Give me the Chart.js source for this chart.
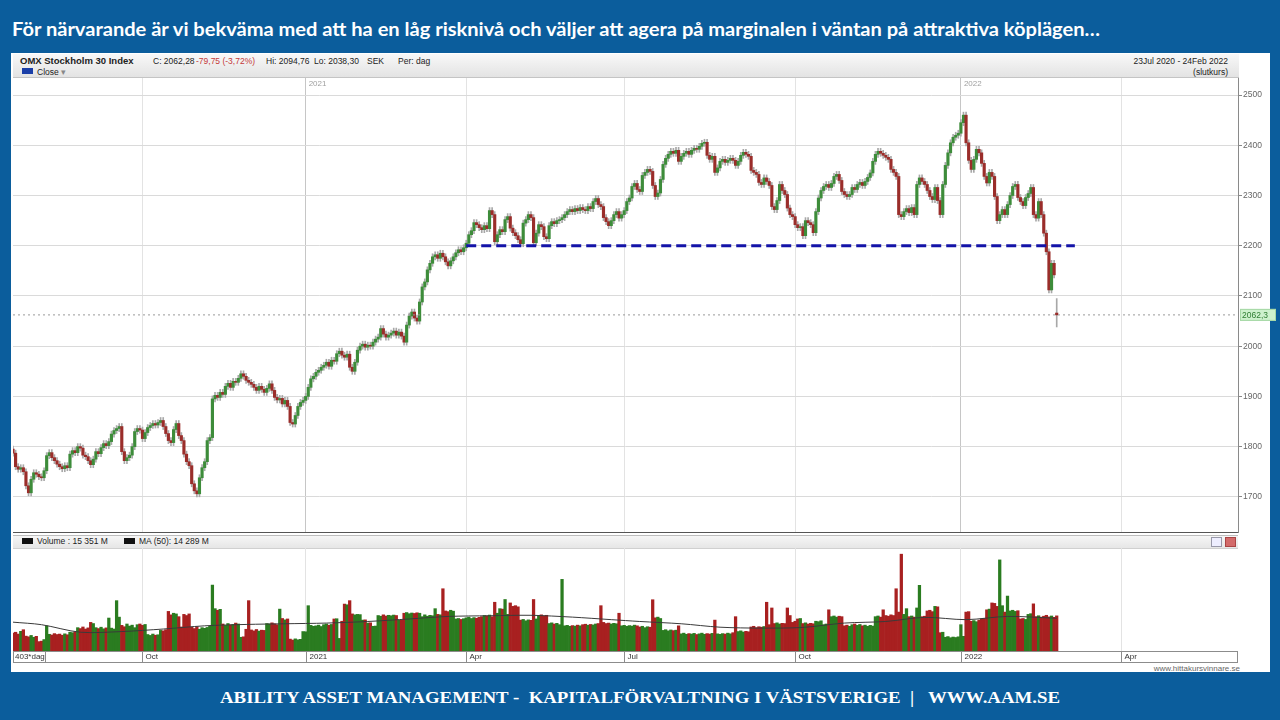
<!DOCTYPE html>
<html><head><meta charset="utf-8">
<script src="https://cdn.jsdelivr.net/npm/chart.js@4.4.0/dist/chart.umd.min.js"></script>
<style>
html,body{margin:0;padding:0;}
body{width:1280px;height:720px;background:#0b5d9c;position:relative;overflow:hidden;font-family:"Liberation Sans",Arial,sans-serif;}
.abs{position:absolute;white-space:nowrap;}
#title{left:12px;top:17px;line-height:24px;color:#fff;font-weight:bold;font-size:19px;font-family:Lato,"Open Sans",sans-serif;transform-origin:0 0;}
#panel{left:11px;top:53px;width:1259px;height:619px;background:#fff;}
#hdr{left:13px;top:54px;width:1226px;height:23px;background:linear-gradient(#f8f8f8,#e3e3e3);border-bottom:1px solid #c4c4c4;}
.t{font-size:8.5px;line-height:12px;color:#222;}
#vleg{left:13px;top:535px;width:1225px;height:12px;background:linear-gradient(#f6f6f6,#e6e6e6);border-top:1px solid #bdbdbd;border-bottom:1px solid #d0d0d0;}
#footer{left:220px;top:686px;line-height:24px;color:#fff;font-weight:bold;font-size:17px;font-family:"Liberation Serif","Times New Roman",serif;transform-origin:0 0;}
canvas{position:absolute;}
</style></head>
<body>
<div id="title" class="abs">För närvarande är vi bekväma med att ha en låg risknivå och väljer att agera på marginalen i väntan på attraktiva köplägen…</div>
<div id="panel" class="abs"></div>
<div id="hdr" class="abs"></div>
<div class="abs t" style="left:20px;top:55px;font-weight:bold;font-size:9.5px;">OMX Stockholm 30 Index</div>
<div class="abs t" style="left:153px;top:55px;">C: 2062,28</div>
<div class="abs t" style="left:196px;top:55px;color:#c43a3a;">-79,75 (-3,72%)</div>
<div class="abs t" style="left:266px;top:55px;">Hi: 2094,76</div>
<div class="abs t" style="left:314px;top:55px;">Lo: 2038,30</div>
<div class="abs t" style="left:367px;top:55px;">SEK</div>
<div class="abs t" style="left:398px;top:55px;">Per: dag</div>
<div class="abs" style="left:22px;top:68px;width:11px;height:6px;background:#1b3fa8;"></div>
<div class="abs t" style="left:37px;top:66px;">Close <span style="color:#888;">▾</span></div>
<div class="abs t" style="right:52px;top:55px;">23Jul 2020 - 24Feb 2022</div>
<div class="abs t" style="right:52px;top:66px;">(slutkurs)</div>
<div id="vleg" class="abs"></div>
<div class="abs" style="left:22px;top:538px;width:11px;height:6px;background:#111;"></div>
<div class="abs t" style="left:37px;top:535px;">Volume : 15 351 M</div>
<div class="abs" style="left:124px;top:538px;width:11px;height:6px;background:#111;"></div>
<div class="abs t" style="left:139px;top:535px;">MA (50): 14 289 M</div>
<div class="abs" style="left:1211px;top:537px;width:9px;height:8px;background:#eef;border:1px solid #99a;"></div>
<div class="abs" style="left:1225px;top:537px;width:9px;height:8px;background:#d36a6a;border:1px solid #a44;"></div>
<div class="abs t" style="right:40px;top:663px;font-size:8px;color:#666;">www.hittakursvinnare.se</div>
<div id="footer" class="abs">ABILITY ASSET MANAGEMENT -&nbsp; KAPITALFÖRVALTNING I VÄSTSVERIGE &nbsp;|&nbsp;&nbsp; WWW.AAM.SE</div>
<canvas id="price" width="1265" height="455" style="left:13px;top:78px;"></canvas>
<canvas id="vol" width="1265" height="115" style="left:13px;top:548px;"></canvas>
<script>
// ---- data (trading-day index 0 = 23 Jul 2020, 403 = 24 Feb 2022) ----
const closesJul20 = [1787,1760,1755,1758,1750,1722,1708];
const closesAug20 = [1735,1748,1745,1740,1738,1752,1782,1788,1778,1772,1765,1760,1756,1762,1758,1785,1792,1788,1800,1797,1783];
const closesSep20 = [1780,1772,1764,1775,1790,1786,1798,1806,1802,1810,1825,1832,1836,1840,1790,1772,1778,1783,1800,1830,1836,1833];
const closesOct20 = [1816,1828,1838,1842,1846,1843,1848,1852,1840,1826,1812,1808,1834,1846,1822,1812,1785,1770,1762,1726,1712,1706];
const closesNov20 = [1738,1758,1770,1812,1818,1895,1902,1898,1908,1904,1920,1926,1918,1930,1928,1936,1945,1940,1932,1928,1924];
const closesDec20 = [1918,1912,1920,1914,1908,1916,1925,1912,1898,1893,1896,1885,1892,1880,1848,1845,1862,1880,1888,1892];
const closesJan21 = [1900,1918,1935,1940,1948,1952,1958,1962,1968,1960,1972,1970,1985,1990,1982,1978,1984,1958,1950];
const closesFeb21 = [1968,1992,2000,2004,1998,2002,2000,2008,2014,2018,2035,2024,2018,2022,2026,2030,2022,2028,2020,2008];
const closesMar21 = [2042,2060,2068,2056,2050,2088,2118,2128,2152,2165,2178,2182,2175,2185,2178,2168,2160,2170,2178,2186,2192,2188,2196];
const closesApr21 = [2205,2222,2230,2246,2242,2236,2232,2240,2234,2270,2262,2208,2222,2232,2228,2252,2258,2235,2226,2220];
const closesMay21 = [2212,2204,2245,2252,2262,2256,2206,2225,2242,2238,2218,2214,2240,2248,2244,2250,2252,2256,2262,2268];
const closesJun21 = [2272,2268,2274,2270,2276,2272,2270,2278,2274,2288,2294,2282,2278,2256,2248,2240,2250,2262,2268,2255,2262];
const closesJul21 = [2270,2288,2295,2318,2324,2312,2308,2340,2346,2352,2348,2320,2298,2305,2332,2362,2374,2382,2388,2384,2390,2368];
const closesAug21 = [2378,2384,2388,2382,2390,2394,2392,2398,2404,2406,2380,2372,2378,2346,2355,2368,2372,2366,2370,2374,2370,2360];
const closesSep21 = [2368,2380,2386,2382,2378,2350,2346,2342,2326,2322,2335,2328,2320,2278,2272,2290,2322,2310,2302,2275,2262,2258];
const closesOct21 = [2242,2236,2238,2220,2250,2246,2242,2226,2268,2295,2310,2318,2322,2316,2324,2338,2342,2330,2308,2302,2298];
const closesNov21 = [2302,2316,2312,2322,2326,2320,2328,2336,2345,2368,2382,2388,2384,2380,2376,2372,2352,2346,2338,2262,2258,2268];
const closesDec21 = [2274,2266,2276,2262,2322,2335,2328,2322,2310,2298,2292,2316,2290,2262,2322,2360,2385,2405,2416,2420,2424];
const closesJan22 = [2445,2460,2405,2370,2352,2372,2392,2385,2364,2338,2325,2346,2338,2298,2250,2262,2272,2262,2282,2300];
const closesFeb22 = [2318,2322,2296,2288,2280,2296,2304,2316,2262,2255,2288,2262,2225,2188,2112,2165,2142,2062.28];

const openOverrides = {0: 1795, 403: 2066};          // opens that differ from the previous close
const highLowOverrides = {403: [2038.30, 2094.76]};  // Lo / Hi of the last day

const volumes = [
 7800,8200,7400,8600,9300,6500,6200,6800,6000,6400,
 4100,4300,5000,11000,7300,7000,7600,7200,7400,6900,
 7500,7100,8200,8000,8400,10200,9800,10500,9600,10100,
 12500,12000,10200,9800,10400,9700,10100,14400,10000,9600,
 22000,14800,11200,10600,11800,10900,11300,10200,11500,11800,
 11200,11600,7200,6800,7400,6900,7100,9000,8800,9300,
 17300,15800,16500,16200,15000,10500,16000,15500,16200,10400,
 9800,10600,9500,10200,9900,10300,10800,28800,18500,17800,
 18200,11800,11200,12000,11400,11600,12200,11800,6000,6200,
 9500,22000,9200,8800,9400,8700,9100,9000,12000,11800,
 12300,11900,11500,18300,14200,13600,14000,5200,4800,5300,
 4900,5100,8500,8400,19800,11200,10800,11000,11300,10700,
 11500,11800,11300,11600,14000,14100,5500,13000,20500,20200,
 22000,16200,15800,16000,15900,13500,13600,12200,12300,10800,
 10900,15500,15200,15800,15300,15600,15400,15700,15500,13500,
 13400,16500,16800,16300,16600,16400,16700,16500,15000,15800,
 15200,15600,15400,18500,16000,15800,27200,17500,17200,17800,
 17400,14000,14200,13800,14100,14500,14800,14200,14600,14300,
 14700,15000,15500,15300,15700,15000,21300,16500,18500,18300,
 22500,16000,21000,19500,19800,19300,13500,13800,13200,13600,
 13400,22500,14000,15500,15800,15300,15600,12000,12300,11800,
 12100,11500,31300,11000,11200,10800,11100,10900,11300,11000,
 11500,11700,11300,11600,11400,11800,12000,19800,12500,12000,
 12200,11800,12100,11900,16500,11000,11200,10800,11100,10900,
 11300,11000,10500,10800,10200,10600,10400,22400,14500,14800,
 14200,9000,9300,8800,9200,8900,9100,11000,7500,7800,
 7300,7600,7400,7700,7200,7500,7800,7300,7600,7400,
 7700,13500,7500,7300,7600,7400,7800,7500,8000,15000,
 8500,8800,8300,8600,8400,10500,10800,10200,10600,10400,
 10700,21300,11500,18800,12000,12300,11800,12100,12000,18800,
 15500,12500,13000,14000,14200,12000,12300,11800,12100,11900,
 13000,12800,13200,11500,11800,18000,15000,15300,14800,15200,
 15000,11000,11300,10800,11500,11800,11200,11600,11000,11300,
 10800,11200,10900,15000,15300,14800,18000,15500,15200,15800,
 15500,27200,17000,42300,16000,18500,15000,15300,14800,18800,
 28700,15000,15200,17500,17800,17200,19500,19300,8000,8200,
 6000,6300,5800,6100,5900,6200,11500,6400,17000,17200,
 13000,13300,12800,13500,14000,14200,18000,18300,21000,20800,
 19500,39800,19800,17000,24000,17500,17800,17300,17600,14000,
 14200,13800,16000,16300,20600,15000,15400,14800,15200,15600,
 14900,15300,14700,15351];

const maIdx  = [0,11,26,42,58,74,90,105,121,137,153,168,184,200,216,231,242,258,273,289,305,321,337,352,368,384,403];
const maVals = [12600,11500,8200,8500,9600,11000,11600,11900,12200,12900,14000,15100,15400,15600,14800,13700,12900,11900,10400,10000,10300,12200,12900,14700,13700,15100,14289];

const monthTickIdx = [50,113,175,236,302,366,428];
const monthTickLabels = ['Oct','2021','Apr','Jul','Oct','2022','Apr'];
const yearTickIdx = [113,366];
const yearTickLabels = ['2021','2022'];
const priceTicks = [1700,1800,1900,2000,2100,2200,2300,2400,2500];
const supportLevel = 2200, supportFrom = 175, supportTo = 410;
const lastClose = 2062.28, lastCloseLabel = '2062,3';
const priceMin = 1628, priceMax = 2534, xMax = 473, volMax = 45000;
const periodLabel = '403*dag';

// ---- build ----
const closes = [].concat(closesJul20,closesAug20,closesSep20,closesOct20,closesNov20,closesDec20,
  closesJan21,closesFeb21,closesMar21,closesApr21,closesMay21,closesJun21,closesJul21,closesAug21,
  closesSep21,closesOct21,closesNov21,closesDec21,closesJan22,closesFeb22);
const opens = closes.map((c,i)=> openOverrides[i] !== undefined ? openOverrides[i] : closes[i-1]);
const wickPad = 6; // drawing style: wick extension beyond body
const bodies = closes.map((c,i)=>({x:i, y:[opens[i], c]}));
const wicks = closes.map((c,i)=>{
  const hl = highLowOverrides[i];
  return {x:i, y: hl ? hl : [Math.min(opens[i],c)-wickPad, Math.max(opens[i],c)+wickPad]};
});
const up = closes.map((c,i)=> c >= opens[i]);
const volData = volumes.map((v,i)=>({x:i, y:v}));
const maData = maIdx.map((x,k)=>({x, y:maVals[k]}));

const FONT = '"Liberation Sans", Arial, sans-serif';
function zeroPad(scale){ scale.paddingTop=0; scale.paddingBottom=0; scale.paddingLeft=0; scale.paddingRight=0; }
const xGridColor = ctx => (ctx.tick && yearTickIdx.includes(ctx.tick.value)) ? '#c6c6c6' : '#e3e3e3';

const pricePlugin = {
  id:'priceDecor',
  afterDraw(chart){
    const {ctx, chartArea:a, scales:{x,y}} = chart;
    ctx.save();
    ctx.font = '8px '+FONT; ctx.fillStyle = '#a0a0a0'; ctx.textBaseline='middle';
    yearTickIdx.forEach((v,k)=> ctx.fillText(yearTickLabels[k], x.getPixelForValue(v)+3, a.top+6));
    const py = y.getPixelForValue(lastClose);
    ctx.fillStyle = '#cdf1cd'; ctx.fillRect(a.right+2, py-6, 36, 12);
    ctx.strokeStyle = '#a6d8a6'; ctx.lineWidth = 1; ctx.strokeRect(a.right+2.5, py-5.5, 35, 11);
    ctx.fillStyle = '#2e7d32'; ctx.font = '8.5px '+FONT; ctx.textAlign='left';
    ctx.fillText(lastCloseLabel, a.right+4, py+0.5);
    ctx.restore();
  }
};

new Chart(document.getElementById('price'), {
  type:'bar',
  data:{datasets:[
    {type:'line', data:[{x:supportFrom,y:supportLevel},{x:supportTo,y:supportLevel}], borderColor:'#1414a8', borderWidth:3, borderDash:[10,5], pointRadius:0, order:1},
    {type:'line', data:[{x:0,y:lastClose},{x:xMax,y:lastClose}], borderColor:'#9a9a9a', borderWidth:1, borderDash:[2,3], pointRadius:0, order:2},
    {data:bodies, backgroundColor: up.map(u=> u ? '#3d8c3a' : '#9a2d2a'), barThickness:2.5, minBarLength:1, grouped:false, order:3},
    {data:wicks, backgroundColor:'#a8a8a8', barThickness:1, grouped:false, order:4}
  ]},
  options:{
    responsive:false, animation:false, devicePixelRatio:1,
    layout:{padding:0},
    plugins:{legend:{display:false}, tooltip:{enabled:false}},
    scales:{
      x:{type:'linear', min:0, max:xMax, offset:false,
         afterBuildTicks: s => { s.ticks = monthTickIdx.map(v=>({value:v})); },
         ticks:{display:false}, grid:{color:xGridColor, drawTicks:false, offset:false}, border:{display:true, color:'#555', width:2}},
      y:{position:'right', min:priceMin, max:priceMax,
         afterBuildTicks: s => { s.ticks = priceTicks.map(v=>({value:v})); },
         ticks:{color:'#666', padding:1, font:{size:8.5, family:FONT}, callback: v => String(v)},
         grid:{color:'#dadada', tickLength:4, tickColor:'#888', offset:false},
         border:{display:true, color:'#8a8a8a'},
         afterFit: s => { s.width = 40; zeroPad(s); }}
    }
  },
  plugins:[pricePlugin]
});

const volPlugin = {
  id:'volDecor',
  afterDraw(chart){
    const {ctx, chartArea:a, scales:{x}} = chart;
    ctx.save();
    const top = a.bottom, h = 12;
    ctx.fillStyle = '#fff'; ctx.fillRect(a.left, top, a.right-a.left, h);
    ctx.strokeStyle = '#8c8c8c'; ctx.lineWidth = 1;
    ctx.strokeRect(a.left+0.5, top+0.5, a.right-a.left-1, h-1);
    ctx.font = '8px '+FONT; ctx.fillStyle = '#333'; ctx.textBaseline='middle';
    ctx.fillText(periodLabel, a.left+2, top+h/2);
    ctx.beginPath(); ctx.moveTo(a.left+32.5, top); ctx.lineTo(a.left+32.5, top+h); ctx.stroke();
    monthTickIdx.forEach((v,k)=>{
      const px = Math.round(x.getPixelForValue(v))+0.5;
      ctx.beginPath(); ctx.moveTo(px, top); ctx.lineTo(px, top+h); ctx.stroke();
      ctx.fillText(monthTickLabels[k], px+3, top+h/2);
    });
    ctx.restore();
  }
};

new Chart(document.getElementById('vol'), {
  type:'bar',
  data:{datasets:[
    {type:'line', data:maData, borderColor:'#3a3a3a', borderWidth:1, pointRadius:0, tension:0.3, order:1},
    {data:volData, backgroundColor: up.map(u=> u ? '#2a7c20' : '#a82020'), barThickness:2.6, grouped:false, order:2}
  ]},
  options:{
    responsive:false, animation:false, devicePixelRatio:1,
    layout:{padding:{left:0, top:0, right:40, bottom:12}},
    plugins:{legend:{display:false}, tooltip:{enabled:false}},
    scales:{
      x:{type:'linear', min:0, max:xMax, offset:false,
         afterBuildTicks: s => { s.ticks = monthTickIdx.map(v=>({value:v})); },
         ticks:{display:false}, grid:{color:'#e3e3e3', drawTicks:false, offset:false}, border:{display:false}},
      y:{display:false, min:0, max:volMax, afterFit: zeroPad}
    }
  },
  plugins:[volPlugin]
});

function fitWidth(id, w){
  const el = document.getElementById(id);
  const r = el.getBoundingClientRect().width;
  el.style.transform = 'scaleX(' + (w/r) + ')';
}
fitWidth('title', 1088);
fitWidth('footer', 840);
</script>
</body></html>
